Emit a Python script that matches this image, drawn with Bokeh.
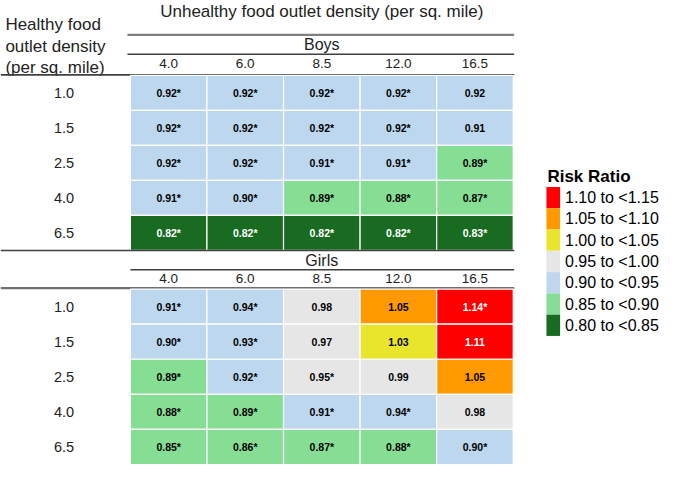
from bokeh.plotting import figure
from bokeh.models import Range1d, ColumnDataSource
from bokeh.embed import file_html
from bokeh.resources import INLINE
from bokeh.core.properties import value

# ---------------- data ----------------
title_text = "Unhealthy food outlet density (per sq. mile)"
row_header = ["Healthy food", "outlet density", "(per sq. mile)"]
col_labels = ["4.0", "6.0", "8.5", "12.0", "16.5"]
row_labels = ["1.0", "1.5", "2.5", "4.0", "6.5"]

boys_values = [
    [0.92, 0.92, 0.92, 0.92, 0.92],
    [0.92, 0.92, 0.92, 0.92, 0.91],
    [0.92, 0.92, 0.91, 0.91, 0.89],
    [0.91, 0.90, 0.89, 0.88, 0.87],
    [0.82, 0.82, 0.82, 0.82, 0.83],
]
boys_sig = [
    [True, True, True, True, False],
    [True, True, True, True, False],
    [True, True, True, True, True],
    [True, True, True, True, True],
    [True, True, True, True, True],
]
girls_values = [
    [0.91, 0.94, 0.98, 1.05, 1.14],
    [0.90, 0.93, 0.97, 1.03, 1.11],
    [0.89, 0.92, 0.95, 0.99, 1.05],
    [0.88, 0.89, 0.91, 0.94, 0.98],
    [0.85, 0.86, 0.87, 0.88, 0.90],
]
girls_sig = [
    [True, True, False, False, True],
    [True, True, False, False, False],
    [True, True, True, False, False],
    [True, True, True, True, False],
    [True, True, True, True, True],
]

bin_edges = [0.80, 0.85, 0.90, 0.95, 1.00, 1.05, 1.10, 1.15]
bin_colors = ["#186B21", "#86DE94", "#BDD7EE", "#E6E6E6", "#E9E52C", "#FF9900", "#FF0000"]
bin_text_colors = ["white", "black", "black", "black", "black", "black", "white"]
bin_labels = ["0.80 to <0.85", "0.85 to <0.90", "0.90 to <0.95", "0.95 to <1.00",
              "1.00 to <1.05", "1.05 to <1.10", "1.10 to <1.15"]
legend_title = "Risk Ratio"

# ---------------- layout (reference pixel space) ----------------
W, H = 685, 480
FONT = "Liberation Sans"
X0, CW = 133.0, 78.4
LINE_L = 130

p = figure(width=669, height=464, x_range=Range1d(0, W), y_range=Range1d(H, 0),
           output_backend="svg", toolbar_location=None, min_border=0)
p.axis.visible = False
p.grid.visible = False
p.outline_line_color = None
p.background_fill_color = "white"


def bin_index(v):
    idx = 0
    for i in range(len(bin_edges) - 1):
        if v >= bin_edges[i] - 1e-9:
            idx = i
    return idx


def draw_section(values, sig, top, rh):
    left, right, tops, bottoms, fills, xs, ys, labels, tcols = [], [], [], [], [], [], [], [], []
    for r, row in enumerate(values):
        for c, v in enumerate(row):
            b = bin_index(v)
            left.append(X0 + c * CW)
            right.append(X0 + (c + 1) * CW)
            tops.append(top + r * rh)
            bottoms.append(top + (r + 1) * rh)
            fills.append(bin_colors[b])
            xs.append(X0 + (c + 0.5) * CW)
            ys.append(top + (r + 0.5) * rh)
            labels.append(f"{v:.2f}" + ("*" if sig[r][c] else ""))
            tcols.append(bin_text_colors[b])
    src = ColumnDataSource(dict(left=left, right=right, top=tops, bottom=bottoms,
                                fill=fills, x=xs, y=ys, label=labels, tcol=tcols))
    p.quad(left="left", right="right", top="top", bottom="bottom", fill_color="fill",
           line_color="white", line_width=1.2, source=src)
    p.text(x="x", y="y", text="label", text_color="tcol", source=src,
           text_font=value(FONT), text_font_size="10.5px", text_font_style="bold",
           text_align="center", text_baseline="middle")
    # row labels
    p.text(x=[65] * len(row_labels), y=[top + (r + 0.5) * rh for r in range(len(row_labels))],
           text=row_labels, text_font=value(FONT), text_font_size="14.5px",
           text_color="#222222", text_align="center", text_baseline="middle")


def col_header(y):
    p.text(x=[X0 + (c + 0.5) * CW for c in range(len(col_labels))], y=[y] * len(col_labels),
           text=col_labels, text_font=value(FONT), text_font_size="13.5px",
           text_color="#222222", text_align="center", text_baseline="middle")


right_edge = X0 + len(col_labels) * CW
mid = (X0 + right_edge) / 2

# title & header
p.text(x=[mid], y=[11.5], text=[title_text], text_font=value(FONT), text_font_size="17px",
       text_color="#222222", text_align="center", text_baseline="middle")
p.text(x=[5] * 3, y=[25, 47.5, 69.5], text=row_header, text_font=value(FONT),
       text_font_size="17px", text_color="#222222", text_align="left",
       text_baseline="alphabetic")

# Boys
p.segment(x0=[LINE_L], y0=[35.5], x1=[right_edge + 1], y1=[35.5], line_color="#808080", line_width=2.2)
p.text(x=[mid], y=[46], text=["Boys"], text_font=value(FONT), text_font_size="16px",
       text_color="#222222", text_align="center", text_baseline="middle")
p.segment(x0=[LINE_L], y0=[55.5], x1=[right_edge + 1], y1=[55.5], line_color="#404040", line_width=1.5)
col_header(65.5)
p.segment(x0=[0], y0=[77], x1=[right_edge + 1], y1=[77], line_color="#404040", line_width=1.8)
draw_section(boys_values, boys_sig, 77.5, 36.2)
p.segment(x0=[0], y0=[258.5], x1=[right_edge + 1], y1=[258.5], line_color="#404040", line_width=1.5)

# Girls
p.text(x=[mid], y=[269], text=["Girls"], text_font=value(FONT), text_font_size="16px",
       text_color="#222222", text_align="center", text_baseline="middle")
p.segment(x0=[X0], y0=[278.5], x1=[right_edge + 1], y1=[278.5], line_color="#404040", line_width=1.5)
col_header(288)
p.segment(x0=[0], y0=[297.5], x1=[right_edge + 1], y1=[297.5], line_color="#707070", line_width=2.2)
draw_section(girls_values, girls_sig, 298.5, 36.3)

# legend
LX, LY, LH = 559, 193, 22
p.text(x=[LX + 1], y=[182.5], text=[legend_title], text_font=value(FONT), text_font_size="17px",
       text_font_style="bold", text_color="black", text_align="left", text_baseline="middle")
n = len(bin_labels)
order = list(range(n - 1, -1, -1))
lsrc = ColumnDataSource(dict(
    left=[LX] * n, right=[LX + 14] * n,
    top=[LY + k * LH for k in range(n)], bottom=[LY + (k + 1) * LH for k in range(n)],
    fill=[bin_colors[i] for i in order],
    tx=[LX + 19] * n, ty=[LY + (k + 0.5) * LH for k in range(n)],
    label=[bin_labels[i] for i in order]))
p.quad(left="left", right="right", top="top", bottom="bottom", fill_color="fill",
       line_color=None, source=lsrc)
p.text(x="tx", y="ty", text="label", source=lsrc, text_font=value(FONT), text_font_size="16px",
       text_color="black", text_align="left", text_baseline="middle")

open("out.html", "w").write(file_html(p, INLINE))
